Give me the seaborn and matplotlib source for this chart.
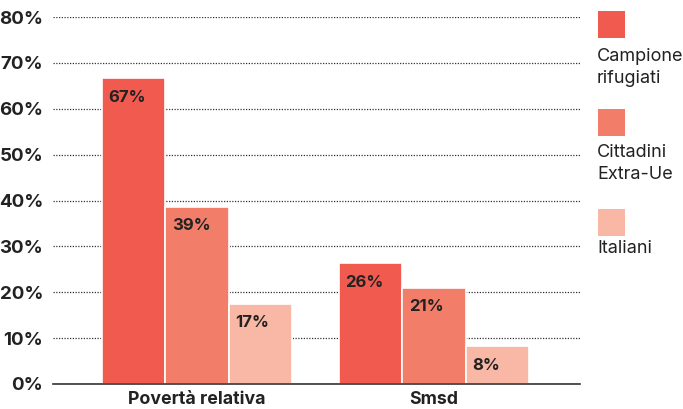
import numpy as np
import pandas as pd
import seaborn as sns
import matplotlib.pyplot as plt
from matplotlib.patches import Rectangle

sns.set_style("white")
plt.rcParams['font.family'] = ['Inter', 'DejaVu Sans']

categories = ['Povertà relativa', 'Smsd']
groups = ['Campione\nrifugiati', 'Cittadini\nExtra-Ue', 'Italiani']
campione = [66.6, 26.3]
extra_ue = [38.6, 21.0]
italiani = [17.4, 8.2]
labels = [['67%', '26%'], ['39%', '21%'], ['17%', '8%']]
colors = ['#F05A4F', '#F27D68', '#F8B8A5']
yticks = [0, 10, 20, 30, 40, 50, 60, 70, 80]

df = pd.DataFrame({
    'cat': categories * 3,
    'grp': [groups[0]] * 2 + [groups[1]] * 2 + [groups[2]] * 2,
    'val': campione + extra_ue + italiani,
})

fig = plt.figure(figsize=(6.83, 4.09), dpi=100)
ax = fig.add_axes([53 / 683, 1 - 384 / 409, 527 / 683, 367 / 409])

sns.barplot(data=df, x='cat', y='val', hue='grp', palette=colors, saturation=1,
            width=0.8, edgecolor='white', linewidth=1.2, ax=ax, legend=False)

ax.set_ylim(0, 80)
ax.set_xlim(-0.608, 1.616)
ax.set_yticks(yticks)
ax.set_yticklabels([f'{t}%' for t in yticks], fontsize=13.5, fontweight='bold', color='#222222')
ax.set_xticks([0, 1])
ax.set_xticklabels(categories, fontsize=12.8, fontweight='bold', color='#222222')
ax.tick_params(axis='y', length=0, pad=7)
ax.tick_params(axis='x', length=0, pad=5)
ax.set_xlabel('')
ax.set_ylabel('')
ax.yaxis.grid(True, linestyle=(0, (1, 1.2)), color='#333333', linewidth=0.9)
ax.set_axisbelow(True)
for s in ['top', 'right', 'left']:
    ax.spines[s].set_visible(False)
ax.spines['bottom'].set_color('#333333')
ax.spines['bottom'].set_linewidth(1.2)
ax.spines['bottom'].set_zorder(5)

for cont, labs in zip(ax.containers, labels):
    for bar, lab in zip(cont.patches, labs):
        ax.annotate(lab, (bar.get_x(), bar.get_height()),
                    xytext=(4.5, -13.5), textcoords='offset points',
                    ha='left', va='center', fontsize=12,
                    fontweight='bold', color='#222222')

# legend on the right
sq_y = [11, 109, 209]
txt_y = [48, 144, 240]
for g, c, y, ty in zip(groups, colors, sq_y, txt_y):
    fig.patches.append(Rectangle((598 / 683, 1 - (y + 27) / 409), 27 / 683, 27 / 409,
                                 transform=fig.transFigure, facecolor=c, edgecolor='none'))
    fig.text(597 / 683, 1 - ty / 409, g, ha='left', va='top',
             fontsize=13, color='#222222', linespacing=1.4)

fig.savefig('out.png', dpi=100)
